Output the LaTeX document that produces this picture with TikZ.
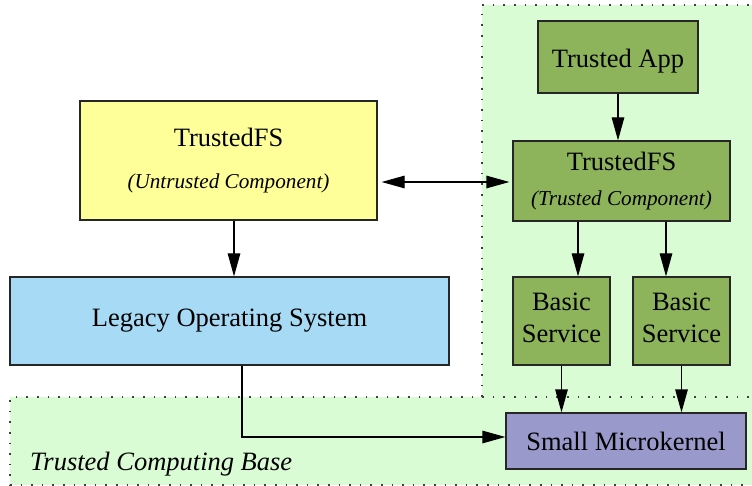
\documentclass[tikz,border=0pt]{standalone}
\usepackage{fontspec}
\setmainfont{Liberation Serif}
\usetikzlibrary{arrows.meta}
\definecolor{zonegreen}{HTML}{D9FCD4}
\definecolor{fsyellow}{HTML}{FFFF99}
\definecolor{osblue}{HTML}{A7DAF4}
\definecolor{trgreen}{HTML}{8DB35B}
\definecolor{kpurple}{HTML}{9999CC}
\begin{document}
\begin{tikzpicture}[x=1pt,y=-1pt,
  box/.style={draw=black!85, line width=1.2pt, inner sep=0pt, align=center,
              font=\fontsize{26.5}{32}\selectfont},
  arr/.style={-{Triangle[length=23pt,width=12.5pt]}, line width=1.2pt},
  biarr/.style={{Triangle[length=23pt,width=12.5pt]}-{Triangle[length=23pt,width=12.5pt]},
                line width=1.2pt, shorten <=4pt, shorten >=3pt},
  zoneline/.style={draw=black!75, line width=1.6pt, dash pattern=on 1.6pt off 9pt}]
\useasboundingbox (0,0) rectangle (752,486);

% trusted zones (their right edges run off the page)
\begin{scope}
  \clip (0,0) rectangle (752,486);
  \fill[zonegreen] (482,5) rectangle (770,397);
  \fill[zonegreen] (10,397) rectangle (770,485);
  \draw[zoneline] (770,5) -- (482,5) -- (482,397);
  \draw[zoneline] (770,397) -- (10,397) -- (10,485) -- (770,485);
\end{scope}

% components
\node[box, fill=fsyellow, minimum width=297pt, minimum height=119pt] (ufs) at (228.5,160.5)
  {TrustedFS\\[10pt]\fontsize{21.2}{32}\selectfont\itshape (Untrusted Component)};
\node[box, fill=osblue, minimum width=439pt, minimum height=88pt] (legacy) at (229.5,321)
  {Legacy Operating System};
\node[box, fill=trgreen, minimum width=160pt, minimum height=72pt,
      text height=22pt, text depth=0pt] (app) at (618,57)
  {Trusted App};
\node[box, fill=trgreen, minimum width=217pt, minimum height=80pt] (tfs) at (621.5,181)
  {TrustedFS\\[3pt]\fontsize{21.2}{32}\selectfont\itshape (Trusted Component)};
\node[box, fill=trgreen, minimum width=97pt, minimum height=88pt, text depth=7pt] (b1) at (561.5,321)
  {Basic\\Service};
\node[box, fill=trgreen, minimum width=97pt, minimum height=88pt, text depth=7pt] (b2) at (681.5,321)
  {Basic\\Service};
\node[box, fill=kpurple, minimum width=240pt, minimum height=56pt] (mk) at (626,441)
  {Small Microkernel};
\node[anchor=base west, inner sep=0pt, font=\fontsize{26.5}{32}\selectfont\itshape] (tcb) at (30,470)
  {Trusted Computing Base};

% connector guides
\coordinate (ufsx) at (234,0);
\coordinate (fsy) at (0,182);
\coordinate (s1x) at (578,0);
\coordinate (s2x) at (666,0);
\coordinate (osx) at (242,0);
\coordinate (mky) at (0,437);

% connectors
\draw[biarr] (ufs.east |- fsy) -- (tfs.west |- fsy);
\draw[arr] (ufs.south -| ufsx) -- (legacy.north -| ufsx);
\draw[arr] (app.south) -- (app.south |- tfs.north);
\draw[arr] (tfs.south -| s1x) -- (b1.north -| s1x);
\draw[arr] (tfs.south -| s2x) -- (b2.north -| s2x);
\draw[arr] (b1.south) -- (b1.south |- mk.north);
\draw[arr] (b2.south) -- (b2.south |- mk.north);
\draw[arr] (legacy.south -| osx) |- (mk.west |- mky);
\end{tikzpicture}
\end{document}
